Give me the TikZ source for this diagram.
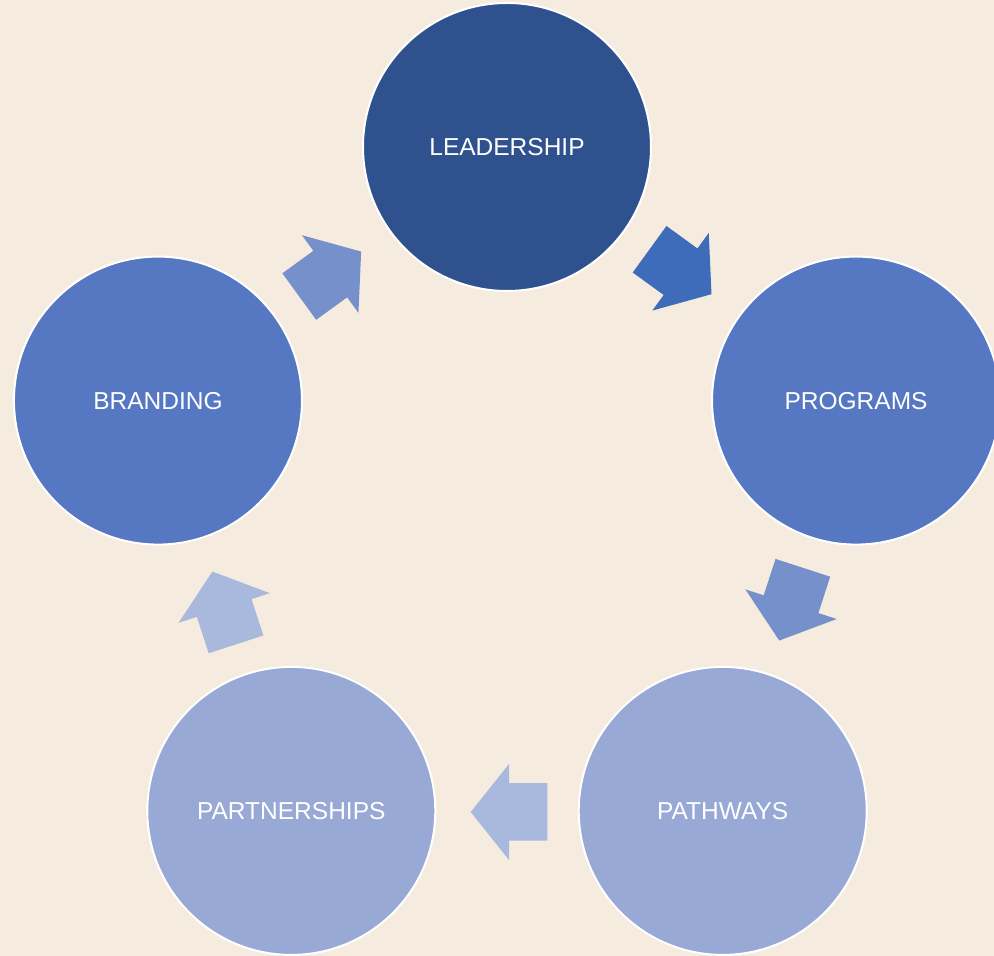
\documentclass[tikz,border=0pt]{standalone}
\usepackage{fontspec}
\setmainfont{Liberation Sans}
\usetikzlibrary{calc}
\definecolor{bg}{HTML}{F5ECDF}
\definecolor{cdark}{HTML}{2F528F}
\definecolor{cmid}{HTML}{5677C1}
\definecolor{clight}{HTML}{98A9D6}
\definecolor{adark}{HTML}{3F6CBA}
\definecolor{amid}{HTML}{7690CC}
\definecolor{alight}{HTML}{A9B8DD}
\tikzset{
  stage/.style={circle, minimum size=288pt, inner sep=0pt, draw=white, line width=2pt,
    text=white, font=\fontsize{24.5}{29}\selectfont},
  blockarrow/.style={draw=none}
}
\begin{document}
\begin{tikzpicture}[x=1pt,y=1pt]
\fill[bg] (0,0) rectangle (994,956);
\useasboundingbox (0,0) rectangle (994,956);
\coordinate (C) at (507,442);
\node[stage, fill=cdark]  (lead) at ($(C)+(90:367)$)   {LEADERSHIP};
\node[stage, fill=cmid]   (prog) at ($(C)+(18:367)$)   {PROGRAMS};
\node[stage, fill=clight] (path) at ($(C)+(-54:367)$)  {PATHWAYS};
\node[stage, fill=clight] (part) at ($(C)+(-126:367)$) {PARTNERSHIPS};
\node[stage, fill=cmid]   (brand) at ($(C)+(-198:367)$) {BRANDING};
\foreach \k/\col in {0/adark,1/amid,2/alight,3/alight,4/amid}{
  \pgfmathsetmacro{\ang}{54-72*\k}
  \begin{scope}[shift={($(C)+(\ang:298)$)}, rotate=\ang-90, xshift=-2pt]
    \fill[blockarrow, \col] (-38.25,28.75) -- (0,28.75) -- (0,48) -- (38.25,0) -- (0,-48)
      -- (0,-28.75) -- (-38.25,-28.75) -- cycle;
  \end{scope}
}
\end{tikzpicture}
\end{document}
